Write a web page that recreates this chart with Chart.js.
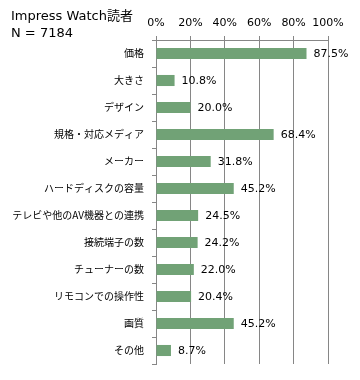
<!DOCTYPE html>
<html>
<head>
<meta charset="utf-8">
<script src="https://cdn.jsdelivr.net/npm/chart.js@4"></script>
<style>
  html, body { margin: 0; padding: 0; background: #fff; }
  #wrap { width: 360px; height: 380px; }
</style>
</head>
<body>
<div id="wrap"><canvas id="chart" width="360" height="380"></canvas></div>
<script>
// 回答項目と割合(%)
const categories = ['価格', '大きさ', 'デザイン', '規格・対応メディア', 'メーカー', 'ハードディスクの容量',
  'テレビや他のAV機器との連携', '接続端子の数', 'チューナーの数', 'リモコンでの操作性', '画質', 'その他'];
const values = [87.5, 10.8, 20.0, 68.4, 31.8, 45.2, 24.5, 24.2, 22.0, 20.4, 45.2, 8.7];
const titleLines = ['Impress Watch読者', 'N = 7184'];

const gridColor = '#868686';
const latinFont = '"DejaVu Sans", Verdana, sans-serif';
const jpFont = '"Noto Sans CJK JP", sans-serif';

// タイトルと数値ラベルは自前で描く
const labelPlugin = {
  id: 'labelPlugin',
  afterDraw(chart) {
    const c = chart.ctx;
    c.save();
    c.fillStyle = '#000';
    c.font = '13px ' + latinFont + ', "Noto Sans CJK JP"';
    c.textAlign = 'left';
    c.textBaseline = 'alphabetic';
    c.fillText(titleLines[0], 11, 20);
    c.fillText(titleLines[1], 11, 37);

    c.font = '11px ' + latinFont;
    c.textBaseline = 'middle';
    const meta = chart.getDatasetMeta(0);
    meta.data.forEach((bar, i) => {
      c.fillText(values[i].toFixed(1) + '%', bar.x + 7, bar.y + 1);
    });
    c.restore();
  }
};

new Chart(document.getElementById('chart').getContext('2d'), {
  type: 'bar',
  data: {
    labels: categories,
    datasets: [{
      data: values,
      backgroundColor: '#71A276',
      borderWidth: 0,
      barPercentage: 0.82,
      categoryPercentage: 0.5
    }]
  },
  options: {
    indexAxis: 'y',
    responsive: false,
    animation: false,
    layout: { padding: { left: 0, right: 32, top: 0, bottom: 16 } },
    plugins: {
      legend: { display: false },
      tooltip: { enabled: false }
    },
    scales: {
      x: {
        position: 'top',
        min: 0,
        max: 100,
        afterFit(scale) { scale.height = 40; },
        ticks: {
          stepSize: 20,
          padding: 6,
          maxRotation: 0,
          minRotation: 0,
          autoSkip: false,
          color: '#000',
          font: { family: latinFont, size: 11 },
          callback: v => v + '%'
        },
        grid: { color: gridColor, tickLength: 4, drawTicks: true },
        border: { color: gridColor }
      },
      y: {
        afterFit(scale) { scale.width = 156; },
        ticks: {
          padding: 8,
          autoSkip: false,
          color: '#000',
          font: { family: jpFont, size: 10 }
        },
        grid: { color: gridColor, drawOnChartArea: false, tickLength: 4, offset: true },
        border: { color: gridColor }
      }
    }
  },
  plugins: [labelPlugin]
});
</script>
</body>
</html>
